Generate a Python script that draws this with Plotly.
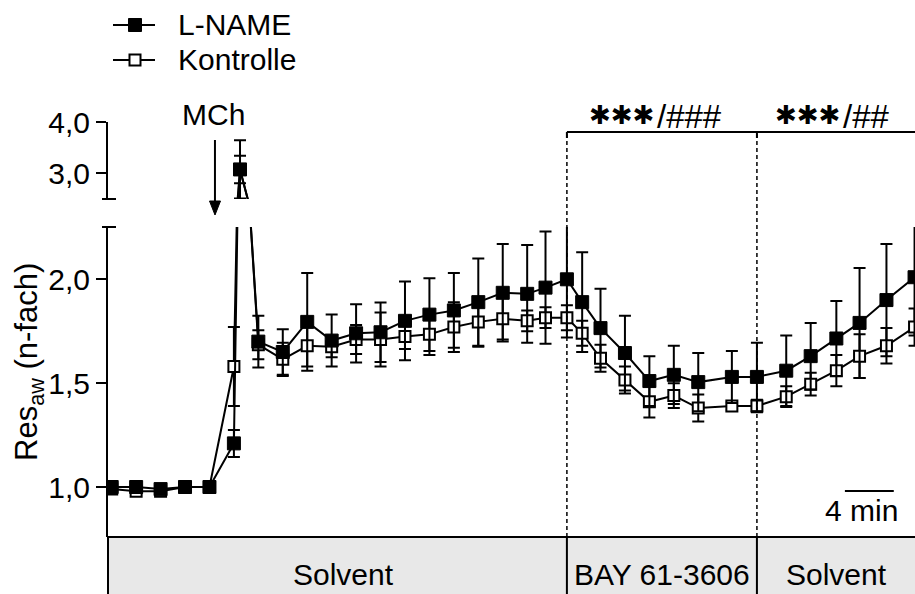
import plotly.graph_objects as go

# Time of each measurement (min)
time_min = [0, 2, 4, 6, 8, 10, 10.5, 12, 14, 16, 18, 20, 22, 24, 26, 28, 30, 32, 34,
            35.5, 37.25, 38.5, 40, 42, 44, 46, 48, 50.75, 52.8, 55.2, 57.2, 59.3,
            61.2, 63.4, 65.7]

# L-NAME: mean and SEM
lname_mean = [1.00, 1.00, 0.99, 1.00, 1.00, 1.21, 3.07, 1.70, 1.65, 1.795, 1.705,
              1.74, 1.745, 1.80, 1.83, 1.85, 1.89, 1.935, 1.93, 1.96, 2.00, 1.89,
              1.765, 1.645, 1.51, 1.54, 1.505, 1.53, 1.53, 1.56, 1.63, 1.715, 1.79,
              1.90, 2.01]
lname_sem = [0.01, 0.01, 0.01, 0.01, 0.01, 0.065, 0.57, 0.125, 0.11, 0.235, 0.125,
             0.14, 0.143, 0.19, 0.175, 0.18, 0.21, 0.235, 0.235, 0.27, 0.28, 0.24,
             0.19, 0.18, 0.12, 0.14, 0.14, 0.125, 0.165, 0.17, 0.16, 0.18, 0.265,
             0.27, 0.28]

# Kontrolle: mean and SEM
ctrl_mean = [0.99, 0.98, 0.98, 1.00, 1.00, 1.58, 3.07, 1.685, 1.615, 1.68, 1.675,
             1.71, 1.71, 1.725, 1.735, 1.77, 1.795, 1.81, 1.80, 1.815, 1.815, 1.74,
             1.62, 1.515, 1.41, 1.44, 1.38, 1.39, 1.39, 1.435, 1.495, 1.56, 1.63,
             1.68, 1.77]
ctrl_sem = [0.01, 0.01, 0.01, 0.01, 0.01, 0.19, 0.27, 0.07, 0.08, 0.10, 0.05,
            0.07, 0.13, 0.06, 0.10, 0.12, 0.12, 0.10, 0.05, 0.05, 0.06, 0.06,
            0.065, 0.065, 0.075, 0.06, 0.065, 0.02, 0.03, 0.05, 0.055, 0.075,
            0.105, 0.085, 0.09]

lower_ticks = [1.0, 1.5, 2.0]
upper_ticks = [3.0, 4.0]

phase_labels = ["Solvent", "BAY 61-3606", "Solvent"]
phase_bounds = [37.25, 52.8]          # switch of treatment (min)
mch_time = 8.45                       # MCh application (min)
scale_bar = (60.0, 64.0)              # 4 min
sig_stars = ["✱✱✱", "✱✱✱"]
sig_hashes = ["/###", "/##"]

W, H = 915, 594
FONT = "Arial, 'Liberation Sans', sans-serif"
FS = 30


def px(xpix):
    return xpix / W


def py(ypix):
    return 1 - ypix / H


fig = go.Figure()

series = [
    ("Kontrolle", ctrl_mean, ctrl_sem, dict(symbol="square", size=11, color="white",
                                             line=dict(color="black", width=2))),
    ("L-NAME", lname_mean, lname_sem, dict(symbol="square", size=13, color="black",
                                           line=dict(color="black", width=1))),
]

# Broken y axis: the same series are drawn on the lower and the upper segment
for yaxis in ["y", "y2"]:
    for name, mean, sem, marker in series:
        fig.add_trace(go.Scatter(
            x=time_min, y=mean, name=name, mode="lines+markers",
            yaxis=yaxis, xaxis="x",
            line=dict(color="black", width=2),
            marker=marker,
            error_y=dict(type="data", array=sem, visible=True, color="black",
                         thickness=2, width=6),
            showlegend=False,
        ))

x0_pix, x_end_pix = 108, 915
t_per_px = 1 / 12.22
x_range = [(x0_pix - 111.7) * t_per_px, (x_end_pix - 111.7) * t_per_px]

axis_common = dict(
    showline=True, linecolor="black", linewidth=2,
    ticks="outside", ticklen=10, tickwidth=2, tickcolor="black",
    showgrid=False, zeroline=False, tickformat=".1f",
    tickfont=dict(family=FONT, size=FS, color="black"),
    automargin=False,
)

fig.update_layout(
    width=W, height=H,
    margin=dict(l=0, r=0, t=0, b=0),
    paper_bgcolor="white", plot_bgcolor="white",
    separators=", ",
    xaxis=dict(domain=[px(x0_pix), 1], range=x_range, visible=False,
               showgrid=False, zeroline=False, anchor="y"),
    yaxis=dict(domain=[py(537), py(227)], range=[1.0 - (537 - 487) / 207.7,
                                                1.0 + (487 - 227) / 207.7],
               tickvals=lower_ticks, anchor="x", **axis_common),
    yaxis2=dict(domain=[py(199), py(122)], range=[3.0 - (199 - 173) / 51, 4.0],
                tickvals=upper_ticks, anchor="x", **axis_common),
    showlegend=False,
)

shapes = []
# Axis break caps
for yc in (227, 199):
    shapes.append(dict(type="line", xref="paper", yref="paper",
                       x0=px(102), x1=px(116), y0=py(yc), y1=py(yc),
                       line=dict(color="black", width=2)))

# Treatment table
shapes.append(dict(type="rect", xref="paper", yref="paper",
                   x0=px(x0_pix), x1=1.2, y0=-0.2, y1=py(537),
                   fillcolor="#e8e8e8", line=dict(color="black", width=2),
                   layer="below"))
for b in phase_bounds:
    shapes.append(dict(type="line", xref="x", yref="paper",
                       x0=b, x1=b, y0=0, y1=py(537),
                       line=dict(color="black", width=2)))
    shapes.append(dict(type="line", xref="x", yref="paper",
                       x0=b, x1=b, y0=py(537), y1=py(132),
                       line=dict(color="black", width=1.5, dash="4px,3px")))

# Significance bracket
shapes.append(dict(type="line", xref="x", yref="paper",
                   x0=phase_bounds[0], x1=x_range[1] + 1, y0=py(132), y1=py(132),
                   line=dict(color="black", width=2)))
for b in phase_bounds:
    shapes.append(dict(type="line", xref="x", yref="paper",
                       x0=b, x1=b, y0=py(132), y1=py(138),
                       line=dict(color="black", width=2)))

# Time scale bar
shapes.append(dict(type="line", xref="x", yref="paper",
                   x0=scale_bar[0], x1=scale_bar[1], y0=py(491), y1=py(491),
                   line=dict(color="black", width=2)))

# MCh arrow (shaft + filled head)
shapes.append(dict(type="line", xref="x", yref="paper",
                   x0=mch_time, x1=mch_time, y0=py(140), y1=py(205),
                   line=dict(color="black", width=2)))
ax_c = px(215)
head = (f"M {px(209.5)},{py(201)} L {px(220.5)},{py(201)} "
        f"L {ax_c},{py(215)} Z")
shapes.append(dict(type="path", xref="paper", yref="paper", path=head,
                   fillcolor="black", line=dict(color="black", width=1)))

# Legend keys
legend_rows = [("L-NAME", 25, "black"), ("Kontrolle", 60, "white")]
for _, ly, fill in legend_rows:
    shapes.append(dict(type="line", xref="paper", yref="paper",
                       x0=px(113), x1=px(155), y0=py(ly), y1=py(ly),
                       line=dict(color="black", width=2)))
    half = 6.5 if fill == "black" else 5.5
    shapes.append(dict(type="rect", xref="paper", yref="paper",
                       x0=px(135 - half), x1=px(135 + half),
                       y0=py(ly + half), y1=py(ly - half),
                       fillcolor=fill, line=dict(color="black", width=2 if fill == "white" else 1)))

fig.update_layout(shapes=shapes)

txt = dict(family=FONT, size=FS, color="black")
ann = []
for lab, ly, _ in legend_rows:
    ann.append(dict(text=lab, xref="paper", yref="paper", x=px(176), y=py(ly),
                    showarrow=False, font=txt, xanchor="left", yanchor="middle"))
ann.append(dict(text="Res<sub>aw</sub> (n-fach)", xref="paper", yref="paper",
                x=px(29), y=py(362), showarrow=False, textangle=-90,
                font=dict(family=FONT, size=31, color="black"),
                xanchor="center", yanchor="middle"))
table_centers = [343, 662, 836]
for lab, cx in zip(phase_labels, table_centers):
    ann.append(dict(text=lab, xref="paper", yref="paper", x=px(cx), y=py(574),
                    showarrow=False, font=txt, xanchor="center", yanchor="middle"))
ann.append(dict(text="4 min", xref="paper", yref="paper",
                x=px(861), y=py(510), showarrow=False, font=txt,
                xanchor="center", yanchor="middle"))
ann.append(dict(text="MCh", xref="paper", yref="paper",
                x=px(213), y=py(114), showarrow=False, font=txt,
                xanchor="center", yanchor="middle"))
# Significance marks: stars end where the hash part starts
star_right = [655, 841]
for stars, hashes, xr in zip(sig_stars, sig_hashes, star_right):
    ann.append(dict(text=stars, xref="paper", yref="paper", x=px(xr + 1), y=py(115),
                    showarrow=False, xanchor="right", yanchor="middle",
                    font=dict(family="DejaVu Sans", size=26, color="black")))
    ann.append(dict(text=hashes, xref="paper", yref="paper", x=px(xr), y=py(116),
                    showarrow=False, xanchor="left", yanchor="middle",
                    font=dict(family=FONT, size=33, color="black")))
fig.update_layout(annotations=ann)

fig.write_html("out.html")
